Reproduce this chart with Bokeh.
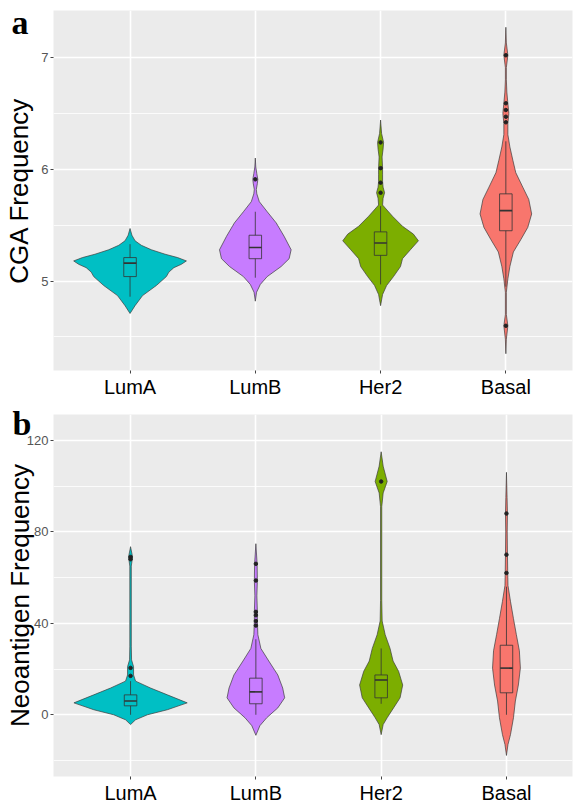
from bokeh.plotting import figure
from bokeh.models import FixedTicker, LinearAxis, Range1d
from bokeh.layouts import column
from bokeh.embed import file_html
from bokeh.resources import INLINE

groups = ["LumA", "LumB", "Her2", "Basal"]
colors = ["#00BFC4", "#C77CFF", "#7CAE00", "#F8766D"]

# ---------- panel a : CGA frequency ----------
a_lumA_y = [4.71, 4.78, 4.87, 4.96, 5.04, 5.08, 5.12, 5.15, 5.18, 5.21, 5.24, 5.28, 5.32, 5.36, 5.41, 5.47]
a_lumA_w = [0, 0.04, 0.10, 0.21, 0.29, 0.31, 0.35, 0.41, 0.45, 0.38, 0.28, 0.17, 0.09, 0.04, 0.015, 0]
a_lumB_y = [4.82, 4.90, 4.97, 5.04, 5.13, 5.20, 5.28, 5.40, 5.52, 5.62, 5.71, 5.78, 5.82, 5.87, 5.91, 5.96, 6.02, 6.10]
a_lumB_w = [0, 0.01, 0.04, 0.095, 0.206, 0.27, 0.286, 0.23, 0.167, 0.095, 0.032, 0.012, 0.008, 0.016, 0.02, 0.012, 0.004, 0]
a_her2_y = [4.78, 4.88, 4.96, 5.04, 5.13, 5.20, 5.28, 5.36, 5.42, 5.49, 5.58, 5.68, 5.74, 5.79, 5.84, 5.89, 5.95, 6.01, 6.11, 6.18, 6.24, 6.32, 6.44]
a_her2_w = [0, 0.016, 0.048, 0.103, 0.159, 0.175, 0.238, 0.302, 0.262, 0.175, 0.095, 0.016, 0.02, 0.032, 0.02, 0.016, 0.016, 0.016, 0.012, 0.02, 0.024, 0.008, 0]
a_basal_y = [4.35, 4.48, 4.60, 4.70, 4.75, 4.90, 5.02, 5.13, 5.26, 5.37, 5.48, 5.60, 5.73, 5.84, 5.97, 6.08, 6.20, 6.31, 6.41, 6.50, 6.59, 6.69, 6.80, 6.91, 7.02, 7.13, 7.27]
a_basal_w = [0, 0.004, 0.016, 0.004, 0.004, 0.004, 0.016, 0.032, 0.06, 0.119, 0.175, 0.206, 0.183, 0.135, 0.079, 0.056, 0.032, 0.016, 0.016, 0.024, 0.016, 0.008, 0.004, 0.004, 0.016, 0.004, 0]

a_q1 = [5.04, 5.20, 5.23, 5.45]
a_med = [5.16, 5.30, 5.34, 5.63]
a_q3 = [5.21, 5.41, 5.44, 5.78]
a_wlo = [4.86, 5.03, 4.97, 4.95]
a_whi = [5.33, 5.62, 5.67, 6.25]
a_out = [[], [5.91], [6.24, 6.01, 5.88, 5.79], [7.02, 6.59, 6.53, 6.47, 6.42, 4.60]]
a_ticks = [5, 6, 7]
a_minor = [4.5, 5.5, 6.5]

# ---------- panel b : neoantigen frequency ----------
b_lumA_y = [-4.3, -2.2, 0, 2.2, 5.2, 8.7, 11.7, 14.7, 17.4, 21, 24, 30, 65, 69, 73.5]
b_lumA_w = [0, 0.04, 0.135, 0.294, 0.452, 0.294, 0.159, 0.04, 0.024, 0.024, 0.008, 0.006, 0.006, 0.016, 0]
b_lumB_y = [-9, -4.8, -1.3, 3, 7.4, 11.7, 17.4, 23.5, 29, 35, 41, 45, 52, 58.7, 66, 74.8]
b_lumB_w = [0, 0.032, 0.087, 0.175, 0.23, 0.214, 0.175, 0.103, 0.04, 0.016, 0.012, 0.012, 0.008, 0.012, 0.01, 0]
b_her2_y = [-8.7, -4.3, -1.3, 3, 7.4, 13, 19, 23.5, 29, 35, 41, 50, 91, 97, 102, 108.7, 115]
b_her2_w = [0, 0.016, 0.048, 0.099, 0.151, 0.172, 0.139, 0.095, 0.071, 0.032, 0.008, 0.005, 0.005, 0.016, 0.048, 0.016, 0]
b_basal_y = [-17.8, -13, -8.7, -1.3, 6, 13, 20.4, 28, 35, 42, 49.6, 56.5, 62, 70, 80, 88, 95, 106]
b_basal_w = [0, 0.012, 0.032, 0.056, 0.071, 0.095, 0.111, 0.103, 0.079, 0.056, 0.032, 0.012, 0.01, 0.008, 0.006, 0.008, 0.005, 0]

b_q1 = [3.9, 4.8, 7.4, 9.6]
b_med = [6.0, 10.0, 15.2, 20.4]
b_q3 = [8.7, 16.0, 17.4, 30.4]
b_wlo = [0, 0, 4.8, 0]
b_whi = [14.7, 33, 29, 56]
b_out = [[69, 68, 20.5, 17], [66, 58.7, 45, 43.5, 41, 39], [102], [88, 70, 62]]
b_ticks = [0, 40, 80, 120]
b_minor = [-20, 20, 60, 100]

FONT = "Liberation Sans"


def make_panel(prof_y, prof_w, q1, med, q3, wlo, whi, outs, ticks, minor,
               yr, xr, width, height, left, top, bottom, ytitle,
               letter, letter_y, letter_standoff):
    p = figure(width=width, height=height, output_backend="svg", toolbar_location=None,
               x_range=Range1d(*xr), y_range=Range1d(*yr),
               min_border_left=left, min_border_right=1, min_border_top=top,
               min_border_bottom=bottom)
    p.background_fill_color = "#EBEBEB"
    p.border_fill_color = "white"
    p.outline_line_color = None

    xs_pos = list(range(1, len(groups) + 1))
    for i, (ys, ws) in enumerate(zip(prof_y, prof_w)):
        c = xs_pos[i]
        px = [c + w for w in ws] + [c - w for w in reversed(ws)]
        py = list(ys) + list(reversed(ys))
        p.patch(px, py, fill_color=colors[i], line_color="#3c3c3c", line_width=0.7)
    bw = 0.05
    p.quad(left=[c - bw for c in xs_pos], right=[c + bw for c in xs_pos], bottom=q1, top=q3,
           fill_color=colors, line_color="#333333", line_width=0.8)
    p.segment(x0=xs_pos, y0=wlo, x1=xs_pos, y1=q1, line_color="#333333", line_width=0.8)
    p.segment(x0=xs_pos, y0=q3, x1=xs_pos, y1=whi, line_color="#333333", line_width=0.8)
    p.segment(x0=[c - bw for c in xs_pos], y0=med, x1=[c + bw for c in xs_pos], y1=med,
              line_color="#333333", line_width=1.6)
    ox, oy = [], []
    for i, o in enumerate(outs):
        ox += [xs_pos[i]] * len(o)
        oy += o
    p.scatter(ox, oy, size=3.5, color="#222222")

    # grid
    p.xgrid.ticker = FixedTicker(ticks=xs_pos)
    p.xgrid.grid_line_color = "white"
    p.xgrid.grid_line_width = 1.6
    p.ygrid.ticker = FixedTicker(ticks=ticks, minor_ticks=minor)
    p.ygrid.grid_line_color = "white"
    p.ygrid.grid_line_width = 1.6
    p.ygrid.minor_grid_line_color = "white"
    p.ygrid.minor_grid_line_width = 0.8

    # axes
    xax = p.xaxis[0]
    yax = p.yaxis[0]
    xax.ticker = FixedTicker(ticks=xs_pos)
    xax.major_label_overrides = {c: g for c, g in zip(xs_pos, groups)}
    xax.major_label_text_font = FONT
    xax.major_label_text_font_size = "20px"
    xax.major_label_text_color = "black"
    xax.major_label_standoff = 2
    yax.ticker = FixedTicker(ticks=ticks, minor_ticks=[])
    yax.major_label_text_font = FONT
    yax.major_label_text_font_size = "13px"
    yax.major_label_text_color = "#555555"
    yax.major_label_standoff = 2
    for ax in (xax, yax):
        ax.axis_line_color = None
        ax.major_tick_out = 3
        ax.major_tick_in = 0
        ax.major_tick_line_color = "#444444"
        ax.minor_tick_line_color = None

    # outer left axis: carries the panel letter (as its only tick label) and the title
    outer = LinearAxis(ticker=FixedTicker(ticks=[letter_y], minor_ticks=[]),
                       major_label_overrides={letter_y: letter},
                       axis_line_color=None, major_tick_line_color=None,
                       minor_tick_line_color=None, major_tick_out=0, major_tick_in=0,
                       major_label_standoff=letter_standoff,
                       major_label_text_font="Liberation Serif",
                       major_label_text_font_style="bold",
                       major_label_text_font_size="34px",
                       major_label_text_color="black",
                       axis_label=ytitle, axis_label_standoff=-25,
                       axis_label_text_font=FONT, axis_label_text_font_size="26px",
                       axis_label_text_font_style="normal", axis_label_text_color="black")
    p.add_layout(outer, "left")
    return p


pa = make_panel([a_lumA_y, a_lumB_y, a_her2_y, a_basal_y],
                [a_lumA_w, a_lumB_w, a_her2_w, a_basal_w],
                a_q1, a_med, a_q3, a_wlo, a_whi, a_out, a_ticks, a_minor,
                (4.2, 7.42), (0.389, 4.532), 573, 400, 50, 10, 28,
                "CGA Frequency", "a", 7.31, 10)

pb = make_panel([b_lumA_y, b_lumB_y, b_her2_y, b_basal_y],
                [b_lumA_w, b_lumB_w, b_her2_w, b_basal_w],
                b_q1, b_med, b_q3, b_wlo, b_whi, b_out, b_ticks, b_minor,
                (-27, 131.3), (0.385, 4.527), 573, 406, 53, 14, 28,
                "Neoantigen Frequency", "b", 131.3, -8)

layout = column(pa, pb, spacing=0)
open("out.html", "w").write(file_html(layout, INLINE))
